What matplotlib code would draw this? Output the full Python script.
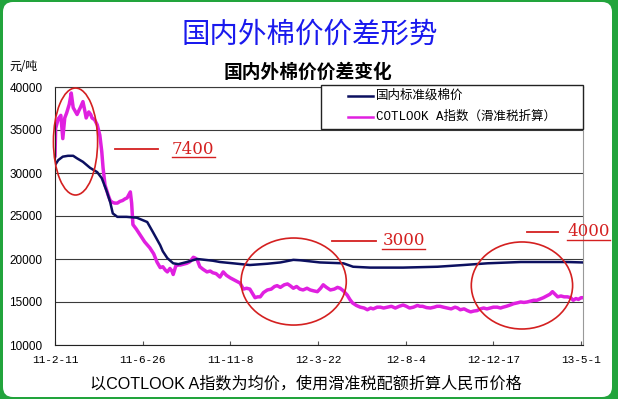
import matplotlib
matplotlib.use('Agg')
import matplotlib.pyplot as plt
from matplotlib.patches import Ellipse, FancyBboxPatch, Rectangle
from matplotlib.lines import Line2D
from matplotlib.transforms import Affine2D

plt.rcParams['font.family'] = ['Noto Sans CJK SC', 'DejaVu Sans']

# x = days since 2011-02-11
tick_days = [0, 135, 270, 405, 540, 675, 810]
tick_labels = ['11-2-11', '11-6-26', '11-11-8', '12-3-22', '12-8-4', '12-12-17', '13-5-1']

# domestic standard grade cotton price (yuan/ton)
dom_days = [0, 5, 12, 20, 28, 34, 43, 54, 65, 72, 80, 85, 89, 96, 110, 126, 142,
            151, 162, 166, 173, 182, 190, 203, 219, 243, 254, 274, 300, 327, 347,
            367, 378, 408, 444, 459, 485, 536, 589, 629, 666, 717, 752, 789, 812]
dom_price = [30900, 31500, 31900, 32000, 32000, 31700, 31300, 30600, 30100, 29400,
             27800, 26600, 25300, 24900, 24900, 24800, 24300, 23100, 21600, 20900,
             20100, 19500, 19400, 19650, 20000, 19800, 19650, 19500, 19300, 19450,
             19600, 19900, 19850, 19600, 19500, 19100, 19000, 19000, 19100, 19300,
             19500, 19650, 19650, 19650, 19600]

# COTLOOK A index converted with sliding tariff (yuan/ton)
cot_days = [0, 1, 5, 9, 12, 15, 18, 22, 25, 28, 31, 34, 37, 39, 43, 46, 48, 52, 55,
            57, 61, 65, 69, 72, 74, 77, 82, 85, 88, 92, 96, 100, 104, 108, 111, 116,
            118, 120, 125, 131, 138, 146, 152, 157, 162, 166, 170, 173, 177, 180,
            182, 186, 190, 193, 198, 203, 208, 213, 216, 219, 223, 228, 234, 239,
            243, 248, 254, 259, 264, 270, 275, 280, 285, 290, 295, 300, 304, 308,
            312, 316, 321, 327, 333, 338, 342, 347, 353, 358, 362, 367, 372, 377,
            382, 388, 393, 398, 404, 409, 413, 418, 424, 430, 435, 439, 444, 450,
            454, 458, 464, 470, 476, 481, 486, 490, 496, 501, 506, 512, 518, 524,
            530, 536, 541, 546, 552, 558, 562, 566, 572, 578, 584, 588, 593, 598,
            604, 610, 616, 620, 624, 630, 635, 640, 645, 650, 655, 660, 665, 670,
            675, 681, 686, 690, 695, 701, 706, 712, 717, 722, 727, 732, 737, 742,
            747, 752, 757, 762, 766, 770, 774, 779, 784, 789, 794, 798, 802, 806,
            810, 812]
cot_price = [32000, 35200, 36300, 36700, 34000, 36400, 37000, 38000, 39300, 37600,
             37200, 36800, 37300, 37600, 38300, 37200, 36400, 37100, 36800, 36400,
             36200, 35600, 34400, 32500, 30600, 28600, 27400, 26800, 26600, 26500,
             26500, 26700, 26800, 27000, 27100, 27800, 26500, 24000, 23500, 22800,
             22000, 21300, 20600, 19650, 19000, 19100, 18700, 18500, 18900, 18600,
             18200, 19200, 19300, 19300, 19400, 19500, 19700, 20200, 20100, 19900,
             19100, 18800, 18500, 18600, 18400, 18300, 17900, 18500, 18100, 17800,
             17600, 17400, 17200, 16500, 16600, 16500, 16000, 15500, 15600, 15600,
             16100, 16400, 16500, 16800, 16900, 16700, 17000, 17100, 16900, 16600,
             16800, 16500, 16400, 16600, 16400, 16300, 16200, 16600, 17000, 16700,
             16400, 16500, 16700, 16600, 16300, 15800, 15300, 14900, 14600, 14400,
             14300, 14100, 14300, 14200, 14400, 14400, 14300, 14400, 14500, 14300,
             14500, 14650, 14500, 14300, 14400, 14600, 14500, 14500, 14350, 14300,
             14400, 14500, 14500, 14400, 14300, 14200, 14400, 14300, 14100, 14200,
             14000, 13850, 13950, 14000, 14200, 14300, 14200, 14300, 14400, 14400,
             14300, 14400, 14500, 14650, 14800, 14900, 15000, 14950, 15000, 15100,
             15200, 15200, 15350, 15500, 15700, 15900, 16200, 15900, 15600, 15700,
             15600, 15600, 15500, 15200, 15400, 15300, 15500, 15500]

# highlighted gaps: (center day, center price, width days, height price)
gap_ellipses = [(31.6, 33660, 68, 12440), (367.5, 17380, 162, 10120), (719, 16920, 156, 10120)]
gap_labels = ['7400', '3000', '4000']
# leader line start/end day, y, label left day
gap_marks = [(92.5, 158.7, 32790, 180), (427, 495, 22130, 504), (727, 775, 23140, 789)]

W, H = 618, 399
fig = plt.figure(figsize=(W / 100, H / 100), dpi=100)
fig.patch.set_facecolor('#22a43c')
px = Affine2D().scale(1 / W, -1 / H).translate(0, 1) + fig.transFigure

# white rounded panel, behind everything
fig.patches.append(FancyBboxPatch((3, 2), 609, 395, boxstyle='round,pad=0,rounding_size=10',
                                  transform=px, facecolor='white', edgecolor='none',
                                  zorder=-10))

ax = fig.add_axes([55 / W, 1 - 345 / H, 528 / W, 258 / H])
ax.set_facecolor('none')
ax.plot(dom_days, dom_price, color='#0c1060', lw=1.8, zorder=3)
ax.plot(cot_days, cot_price, color='#e020e0', lw=2.5, zorder=2)

ax.set_xlim(0, 813)
ax.set_ylim(10000, 40000)
ax.set_yticks(range(10000, 40001, 5000))
ax.set_xticks(tick_days)
ax.set_xticklabels(tick_labels, family='Liberation Mono', fontsize=8)
for t in ax.get_yticklabels():
    t.set_family('Liberation Sans')
    t.set_fontsize(8.5)
ax.yaxis.grid(True, color='#3a3a3a', lw=0.8)
ax.set_axisbelow(True)
ax.tick_params(axis='y', length=0, pad=9)
ax.tick_params(axis='x', direction='in', length=3, pad=7, color='#555')
for s in ['left', 'bottom']:
    ax.spines[s].set_color('#222')
ax.spines['top'].set_color('#3a3a3a')
ax.spines['top'].set_linewidth(0.8)
ax.spines['right'].set_color('#999')

# red highlights
red = '#d42020'
for (cx, cy, ew, eh), lab, (x0, x1, ly, tx) in zip(gap_ellipses, gap_labels, gap_marks):
    ax.add_patch(Ellipse((cx, cy), ew, eh, fill=False, edgecolor=red, lw=1.2,
                         clip_on=False, zorder=4))
    ax.plot([x0, x1], [ly, ly], color=red, lw=1.3, clip_on=False, zorder=4)
    ax.text(tx, ly, lab, color=red, fontsize=12, family='DejaVu Serif',
            va='center', ha='left', clip_on=False, zorder=4)
    # underline
    ax.plot([tx, tx + 66], [ly - 930, ly - 930], color=red, lw=1.0, clip_on=False, zorder=4)

# legend box
fig.patches.append(Rectangle((321, 85), 262, 44, transform=px, facecolor='white',
                             edgecolor='#222', lw=1.0, zorder=5))
leg_items = [('#0c1060', '国内标准级棉价', 96), ('#e020e0', 'COTLOOK A指数（滑准税折算）', 117)]
for col, txt, yy in leg_items:
    fig.lines.append(Line2D([348, 373], [yy, yy], transform=px, color=col, lw=1.8, zorder=6))
    fig.text(376, yy, txt, transform=px, fontsize=9, va='center', ha='left',
             family=['Liberation Mono', 'Noto Sans CJK SC'], zorder=6)

fig.text(310, 35, '国内外棉价价差形势', transform=px, color='#1a1aee', fontsize=20.5,
         ha='center', va='center')
fig.text(308, 72.5, '国内外棉价价差变化', transform=px, fontsize=13.5, weight='bold',
         ha='center', va='center')
fig.text(9, 66, '元/吨', transform=px, fontsize=8.5, ha='left', va='center')
fig.text(306, 384, '以COTLOOK A指数为均价，使用滑准税配额折算人民币价格', transform=px,
         fontsize=11.6, ha='center', va='center', family=['Liberation Sans', 'Noto Sans CJK SC'])

fig.savefig('out.png', dpi=100, facecolor=fig.get_facecolor())
